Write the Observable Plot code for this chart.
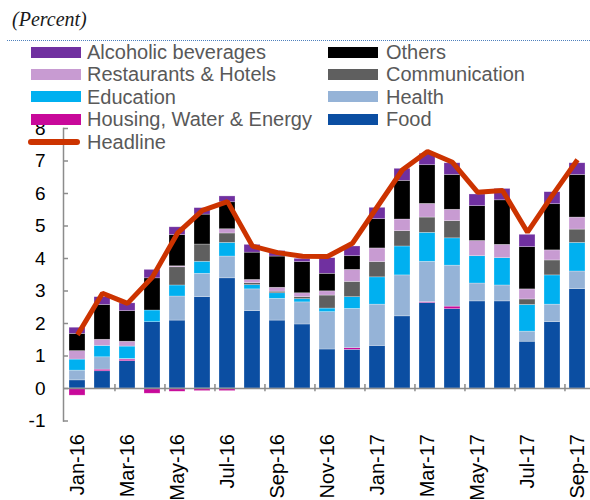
<!DOCTYPE html>
<html><head><meta charset="utf-8">
<script src="https://cdn.jsdelivr.net/npm/d3@7"></script>
<script src="https://cdn.jsdelivr.net/npm/@observablehq/plot@0.6"></script>
<style>
body{margin:0;background:#fff;}
#wrap{position:relative;width:590px;height:500px;overflow:hidden;font-family:"Liberation Sans",Arial,sans-serif;}
#chart{position:absolute;left:0;top:0;}
#title{position:absolute;left:12px;top:7px;font-family:"Liberation Serif","Times New Roman",serif;font-style:italic;font-size:20px;color:#1a1a1a;line-height:24px;}
#rule{position:absolute;left:7px;right:0;top:40px;border-top:1px dotted #4f81bd;}
.leg{position:absolute;font-size:20px;color:#595959;line-height:22px;white-space:nowrap;}
.sw{position:absolute;width:50px;height:11px;}
.ln{position:absolute;width:52px;height:6px;border-radius:3px;}
</style>
</head><body>
<div id="wrap"><div id="chart"></div><div id="title">(Percent)</div><div id="rule"></div><div id="legend"></div></div>
<script>
const months = ["Jan-16","Feb-16","Mar-16","Apr-16","May-16","Jun-16","Jul-16","Aug-16","Sep-16","Oct-16","Nov-16","Dec-16",
  "Jan-17","Feb-17","Mar-17","Apr-17","May-17","Jun-17","Jul-17","Aug-17","Sep-17"];
const tickLabels = ["Jan-16","Mar-16","May-16","Jul-16","Sep-16","Nov-16","Jan-17","Mar-17","May-17","Jul-17","Sep-17"];
const yTicks = [-1,0,1,2,3,4,5,6,7,8];

const food        = [0.25,0.53,0.84,2.04,2.09,2.81,3.39,2.38,2.09,1.97,1.20,1.19,1.31,2.22,2.63,2.44,2.68,2.68,1.44,2.04,3.06];
const housing     = [-0.22,0.05,0.05,-0.16,-0.10,-0.08,-0.08,0,0,0,0,0.05,0,0,0.03,0.08,0,0,0,0,0];
const health      = [0.30,0.38,0.02,0,0.74,0.72,0.67,0.67,0.67,0.68,1.15,1.21,1.27,1.26,1.24,1.26,0.55,0.49,0.31,0.54,0.54];
const education   = [0.34,0.35,0.38,0.36,0.34,0.37,0.42,0.13,0.17,0.10,0.11,0.36,0.84,0.89,0.89,0.84,0.84,0.84,0.82,0.90,0.88];
const communication=[0,0,0,0,0.56,0.53,0.29,0.06,0.05,0.06,0.40,0.47,0.47,0.47,0.47,0.53,0,0,0.17,0.46,0.41];
const restaurants = [0.26,0.19,0.15,0,0.03,0,0.13,0.10,0.12,0.12,0.13,0.37,0.42,0.36,0.42,0.35,0.47,0.41,0.31,0.31,0.37];
const others      = [0.53,1.07,0.94,0.99,0.96,0.92,0.83,0.84,0.96,0.96,0.54,0.42,0.90,1.19,1.19,1.07,1.07,1.37,1.30,1.42,1.31];
const alcoholic   = [0.19,0.24,0.24,0.26,0.24,0.20,0.18,0.24,0.17,0.10,0.48,0.30,0.35,0.37,0.35,0.36,0.36,0.35,0.38,0.37,0.36];
const headline    = [1.65,2.93,2.62,3.43,4.78,5.48,5.75,4.38,4.18,4.07,4.06,4.47,5.60,6.73,7.29,6.96,6.04,6.09,4.81,5.95,7.04];

const seriesList = [
  {name:"Food", values:food, color:"#0b4ea2"},
  {name:"Housing, Water & Energy", values:housing, color:"#c8099a"},
  {name:"Health", values:health, color:"#95b3d7"},
  {name:"Education", values:education, color:"#00b0f0"},
  {name:"Communication", values:communication, color:"#5f5f5f"},
  {name:"Restaurants & Hotels", values:restaurants, color:"#c89bd2"},
  {name:"Others", values:others, color:"#000000"},
  {name:"Alcoholic beverages", values:alcoholic, color:"#7030a0"}
];
const headlineColor = "#cc3300";
const seriesNames = seriesList.map(s => s.name);

const table = seriesList.flatMap(s => months.map((m, i) => ({month: m, series: s.name, value: s.values[i]})));
const lineData = months.map((m, i) => ({month: m, value: headline[i]}));

const W = 590, H = 500, mL = 63, mR = 0, mT = 128, mB = 79.5;
const step = (W - mL - mR) / months.length;
const axisGray = "#8c8c8c";

const chart = Plot.plot({
  width: W, height: H,
  marginLeft: mL, marginRight: mR, marginTop: mT, marginBottom: mB,
  style: {fontFamily: "'Liberation Sans', Arial, sans-serif", fontSize: "19px", color: "#000", background: "transparent"},
  x: {domain: months, paddingInner: 0.36, paddingOuter: 0.18, label: null},
  y: {domain: [-1, 8], label: null},
  color: {domain: seriesNames, range: seriesList.map(s => s.color)},
  marks: [
    Plot.barY(table, Plot.stackY({x: "month", y: "value", fill: "series", order: seriesNames,
      stroke: "#ffffff", strokeWidth: 0.6, strokeOpacity: 0.45})),
    Plot.ruleY([0], {stroke: axisGray, strokeWidth: 1.5}),
    Plot.ruleX(tickLabels.slice(1), {x: d => d, dx: -step / 2, y1: -0.1, y2: 0.12, stroke: axisGray, strokeWidth: 1.5}),
    Plot.frame({anchor: "left", stroke: axisGray, strokeWidth: 1.5}),
    Plot.axisY({ticks: yTicks, tickSize: -5, tickPadding: 23, stroke: axisGray, strokeWidth: 1.5, fill: "#000", fontSize: 19, tickFormat: d => String(d)}),
    Plot.axisX({ticks: tickLabels, tickSize: 0, tickPadding: 13, tickRotate: -90, fill: "#000", fontSize: 20}),
    Plot.line(lineData, {x: "month", y: "value", stroke: headlineColor, strokeWidth: 5, strokeLinejoin: "miter", strokeLinecap: "butt"})
  ]
});
document.getElementById("chart").appendChild(chart);

// legend (HTML overlay)
const legendCols = [
  ["Alcoholic beverages","Restaurants & Hotels","Education","Housing, Water & Energy","Headline"],
  ["Others","Communication","Health","Food"]
];
const colX = [{sw: 31, tx: 87}, {sw: 328, tx: 386}];
const leg = document.getElementById("legend");
legendCols.forEach((col, c) => col.forEach((name, r) => {
  const cy = 52 + r * 22.4;
  if (name === "Headline") {
    const l = document.createElement("div");
    l.className = "ln"; l.style.left = (colX[c].sw - 3) + "px"; l.style.top = (cy - 3) + "px";
    l.style.background = headlineColor; leg.appendChild(l);
  } else {
    const s = seriesList.find(d => d.name === name);
    const sw = document.createElement("div");
    sw.className = "sw"; sw.style.left = colX[c].sw + "px"; sw.style.top = (cy - 5.5) + "px";
    sw.style.background = s.color; leg.appendChild(sw);
  }
  const t = document.createElement("div");
  t.className = "leg"; t.textContent = name;
  t.style.left = colX[c].tx + "px"; t.style.top = (cy - 11) + "px";
  leg.appendChild(t);
}));
</script>
</body></html>
